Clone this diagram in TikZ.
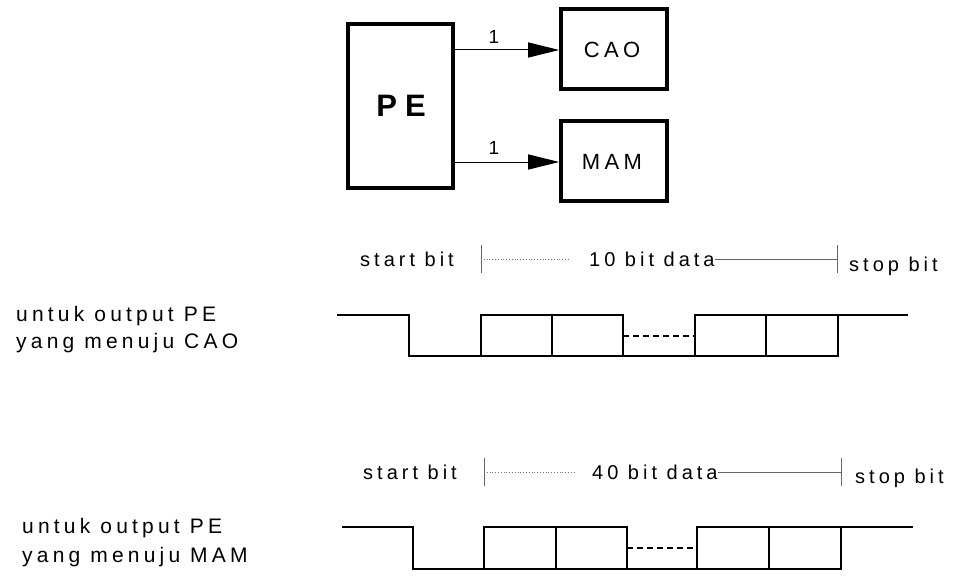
\documentclass[tikz,border=0pt]{standalone}
\usepackage{fontspec}
\setmainfont{Liberation Sans}
\newfontfamily\lblfont[LetterSpace=20]{Liberation Sans}
\newfontfamily\sidefont[LetterSpace=20]{Liberation Sans}
\newfontfamily\lblbold[LetterSpace=26]{Liberation Sans Bold}
\usetikzlibrary{arrows.meta}
\begin{document}
\begin{tikzpicture}[x=1pt,y=-1pt,
  blk/.style={draw,line width=3.6pt},
  conn/.style={line width=1pt,-{Triangle[length=31pt,width=15pt]}},
  txt/.style={inner sep=0pt,anchor=west,font=\lblfont\fontsize{20}{23}\selectfont},
  side/.style={inner sep=0pt,anchor=west,font=\sidefont\fontsize{21}{24}\selectfont},
  boxtxt/.style={inner sep=0pt,font=\lblfont\fontsize{22}{24}\selectfont},
  onetxt/.style={inner sep=0pt,font=\lblfont\fontsize{19}{22}\selectfont},
  wave/.style={line width=2.4pt,line join=miter},
  tick/.style={line width=1pt,draw=black!60},
  dotl/.style={line width=0.8pt,draw=black!55,dotted},
  soll/.style={line width=1pt,draw=black!60},
]
\useasboundingbox (0,0) rectangle (955,578);
% --- block diagram ---
\node[blk,minimum width=105pt,minimum height=164pt,inner sep=0pt] (pe) at (400.5,106) {};
\node[inner sep=0pt,font=\lblbold\fontsize{31}{36}\selectfont] (petxt) at (401,106) {PE};
\node[blk,minimum width=106pt,minimum height=80pt,inner sep=0pt] (cao) at (614,49) {};
\node[boxtxt] (caotxt) at (612,50) {CAO};
\node[blk,minimum width=106pt,minimum height=80pt,inner sep=0pt] (mam) at (614,161) {};
\node[boxtxt] (mamtxt) at (612,162) {MAM};
\coordinate (a1) at (453,50);
\coordinate (a2) at (453,162);
\draw[conn] (a1) -- (a1 -| cao.west);
\draw[conn] (a2) -- (a2 -| mam.west);
\node[onetxt] (one1) at (494,37) {1};
\node[onetxt] (one2) at (494,148) {1};
% --- timing 1 ---
\node[txt] (sb1) at (360,259) {start bit};
\node[txt] (d1) at (589,259) {10 bit data};
\node[txt] (st1) at (849,266) {stop bit};
\coordinate (t1a) at (481,245); \coordinate (t1b) at (481,273);
\coordinate (t2a) at (837,245); \coordinate (t2b) at (837,273);
\draw[tick] (t1a) -- (t1b);
\draw[tick] (t2a) -- (t2b);
\draw[dotl] (481,259) -- (569,259);
\draw[soll] (d1.east) -- (837,259);
\node[side] (u1) at (16,316) {untuk output PE};
\node[side] (y1) at (16,343) {yang menuju CAO};
\draw[wave] (337,315) -- (409,315) -- (409,356) -- (838,356);
\draw[wave] (481,356) rectangle (552,315);
\draw[wave] (552,356) rectangle (623,315);
\draw[wave] (695,356) rectangle (766,315);
\draw[wave] (766,356) rectangle (838,315) -- (908,315);
\draw[line width=2pt,dashed,dash pattern=on 6pt off 4pt] (623,336) -- (695,336);
% --- timing 2 ---
\node[txt] (sb2) at (363,472) {start bit};
\node[txt] (d2) at (592,472) {40 bit data};
\node[txt] (st2) at (855,478) {stop bit};
\coordinate (t3a) at (484,458); \coordinate (t3b) at (484,486);
\coordinate (t4a) at (841,458); \coordinate (t4b) at (841,486);
\draw[tick] (t3a) -- (t3b);
\draw[tick] (t4a) -- (t4b);
\draw[dotl] (484,472) -- (574,472);
\draw[soll] (d2.east) -- (841,472);
\node[side] (u2) at (22,528) {untuk output PE};
\node[side] (y2) at (22,557) {yang menuju MAM};
\draw[wave] (342,527) -- (413,527) -- (413,569) -- (841,569);
\draw[wave] (484,569) rectangle (556,527);
\draw[wave] (556,569) rectangle (627,527);
\draw[wave] (697,569) rectangle (769,527);
\draw[wave] (769,569) rectangle (841,527);
\draw[wave] (841,527) -- (913,527);
\draw[line width=2pt,dashed,dash pattern=on 6pt off 4pt] (627,548) -- (697,548);
\end{tikzpicture}
\end{document}
